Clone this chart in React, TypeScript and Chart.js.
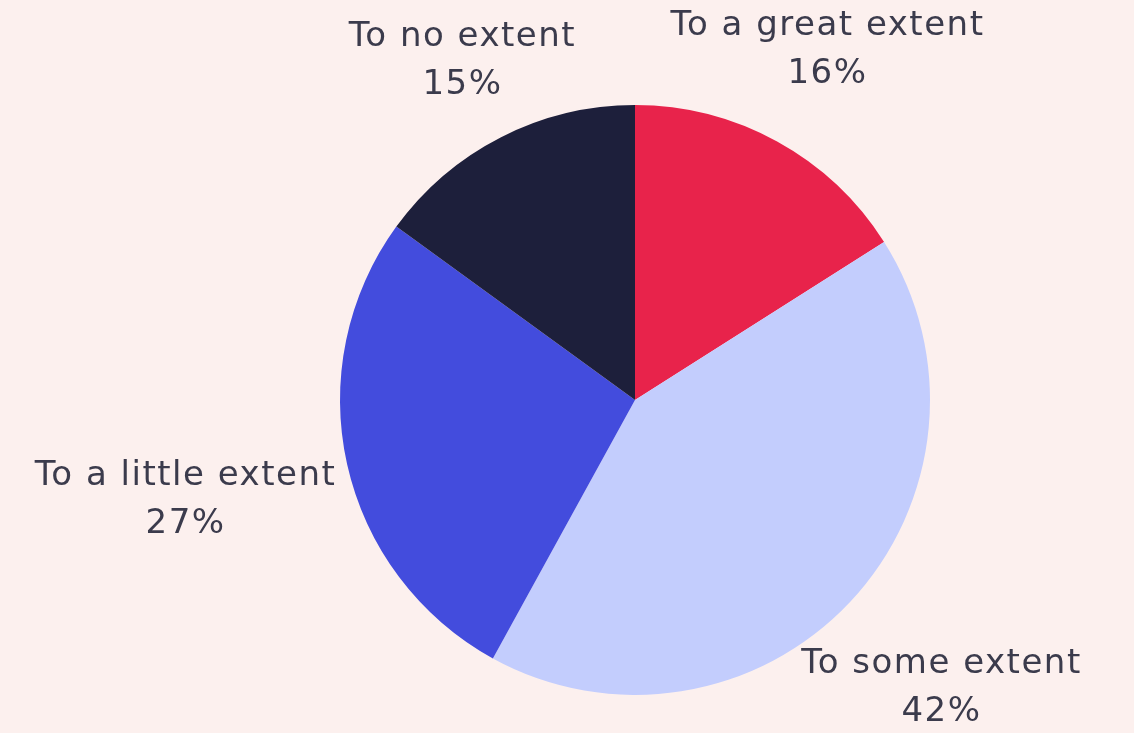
import React, { useEffect, useRef } from "react";
import { Chart, registerables } from "chart.js";

Chart.register(...registerables);

const categories = ["To a great extent", "To some extent", "To a little extent", "To no extent"];
const values = [16, 42, 27, 15];
const percentLabels = ["16%", "42%", "27%", "15%"];
const colors = ["#E8234B", "#C3CDFD", "#434CDD", "#1D1F3B"];

const FONT_SIZE = 34;
const LINE_H = 48;
const FONT = `${FONT_SIZE}px "DejaVu Sans", sans-serif`;

const outLabels = {
  id: "outLabels",
  afterDatasetsDraw(chart: any) {
    const ctx = chart.ctx;
    const meta = chart.getDatasetMeta(0);
    ctx.save();
    ctx.font = FONT;
    (ctx as any).letterSpacing = "1.5px";
    ctx.fillStyle = "#3B3B4C";
    ctx.textAlign = "center";
    ctx.textBaseline = "middle";
    meta.data.forEach((arc: any, i: number) => {
      const { x, y, startAngle, endAngle, outerRadius } = arc.getProps(
        ["x", "y", "startAngle", "endAngle", "outerRadius"],
        true
      );
      const mid = (startAngle + endAngle) / 2;
      const dx = Math.cos(mid);
      const dy = Math.sin(mid);
      const l1 = categories[i];
      const l2 = percentLabels[i];
      const w = Math.max(ctx.measureText(l1).width, ctx.measureText(l2).width);
      const h = LINE_H * 2;
      const ext = Math.sqrt((dx * w / 2) ** 2 + (dy * h / 2) ** 2);
      const R = outerRadius + 18 + ext;
      const cx = x + dx * R;
      const cy = y + dy * R;
      ctx.fillText(l1, cx, cy - LINE_H / 2);
      ctx.fillText(l2, cx, cy + LINE_H / 2);
    });
    ctx.restore();
  },
};

export default function App() {
  const ref = useRef<HTMLCanvasElement>(null);
  useEffect(() => {
    if (!ref.current) return;
    const chart = new Chart(ref.current, {
      type: "pie",
      data: {
        labels: categories,
        datasets: [
          {
            data: values,
            backgroundColor: colors,
            borderWidth: 0,
          },
        ],
      },
      options: {
        animation: false,
        responsive: false,
        maintainAspectRatio: false,
        layout: { padding: { left: 340, right: 204, top: 105, bottom: 38 } },
        plugins: {
          legend: { display: false },
          tooltip: { enabled: false },
        },
      },
      plugins: [outLabels],
    });
    return () => chart.destroy();
  }, []);
  return (
    <div style={{ position: "fixed", left: 0, top: 0, width: 1134, height: 733, background: "#FCF0EE" }}>
      <canvas ref={ref} width={1134} height={733} style={{ display: "block", width: 1134, height: 733 }} />
    </div>
  );
}
